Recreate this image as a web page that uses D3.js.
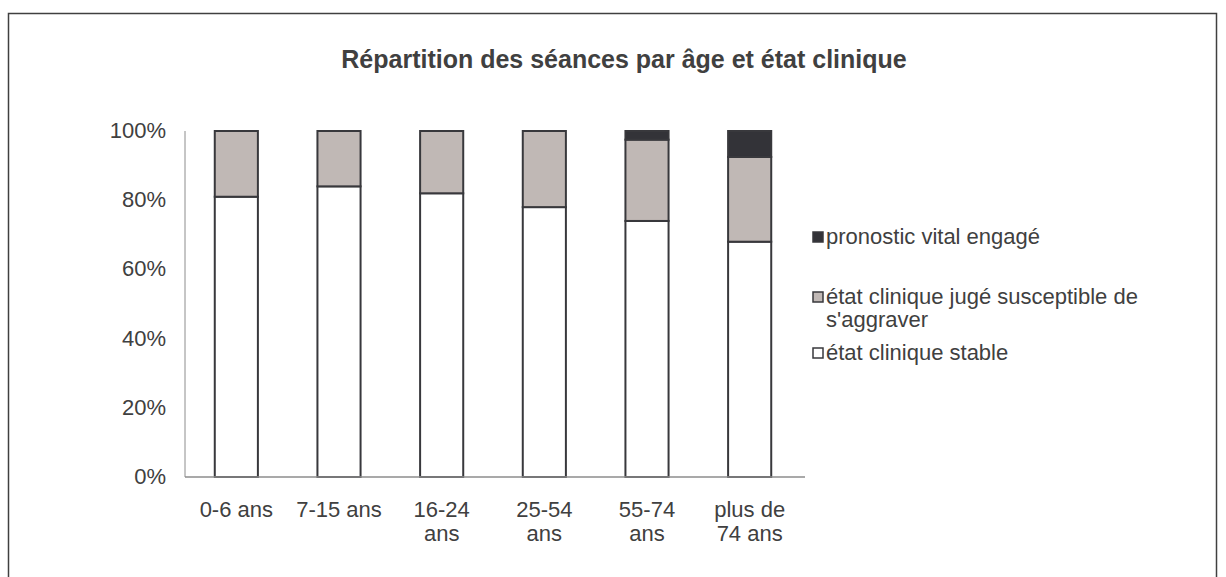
<!DOCTYPE html>
<html>
<head>
<meta charset="utf-8">
<script src="https://cdn.jsdelivr.net/npm/d3@7"></script>
<style>
  body { margin: 0; background: #fff; }
  text { font-family: "Liberation Sans", Arial, sans-serif; fill: #404040; }
</style>
</head>
<body>
<script>
// data
var categories = ["0-6 ans", "7-15 ans", "16-24 ans", "25-54 ans", "55-74 ans", "plus de 74 ans"];
var stable = [81, 84, 82, 78, 74, 68];
var aggravate = [19, 16, 18, 22, 23.5, 24.5];
var vital = [0, 0, 0, 0, 2.5, 7.5];
var yTicks = [0, 20, 40, 60, 80, 100];
var seriesNames = ["état clinique stable", "état clinique jugé susceptible de s'aggraver", "pronostic vital engagé"];
var seriesColors = ["#ffffff", "#c0b8b5", "#333338"];

var W = 1226, H = 577;
var svg = d3.select("body").append("svg").attr("width", W).attr("height", H);

// outer frame
svg.append("rect")
  .attr("x", 8.5).attr("y", 13.5)
  .attr("width", 1208).attr("height", 600)
  .attr("fill", "none").attr("stroke", "#404040").attr("stroke-width", 1.5);

svg.append("text")
  .attr("x", 624).attr("y", 68)
  .attr("text-anchor", "middle")
  .style("font-size", "25px").style("font-weight", "bold")
  .text("Répartition des séances par âge et état clinique");

var x = d3.scaleBand().domain(categories).range([185, 801]).paddingInner(0.58).paddingOuter(0.29);
var y = d3.scaleLinear().domain([0, 100]).range([477, 131]);

// stack
var rows = categories.map(function (c, i) {
  return { cat: c, s0: stable[i], s1: aggravate[i], s2: vital[i] };
});
var stack = d3.stack().keys(["s0", "s1", "s2"])(rows);

// axes lines
svg.append("line").attr("x1", 185).attr("x2", 185).attr("y1", y(100)).attr("y2", y(0))
  .attr("stroke", "#8c8c8c").attr("stroke-width", 1);

stack.forEach(function (layer, k) {
  svg.append("g").selectAll("rect")
    .data(layer.filter(function (d) { return d[1] > d[0]; }))
    .join("rect")
    .attr("x", function (d) { return x(d.data.cat); })
    .attr("width", x.bandwidth())
    .attr("y", function (d) { return y(d[1]); })
    .attr("height", function (d) { return y(d[0]) - y(d[1]); })
    .attr("fill", seriesColors[k])
    .attr("stroke", "#38383c").attr("stroke-width", 2);
});

svg.append("line").attr("x1", 185).attr("x2", 805).attr("y1", y(0)).attr("y2", y(0))
  .attr("stroke", "#8c8c8c").attr("stroke-width", 1.5);

// y tick labels
svg.append("g").selectAll("text").data(yTicks).join("text")
  .attr("x", 166).attr("y", function (d) { return y(d) + 7; })
  .attr("text-anchor", "end").style("font-size", "22px")
  .text(function (d) { return d + "%"; });

// x labels (wrapped like the original)
var xLines = [["0-6 ans"], ["7-15 ans"], ["16-24", "ans"], ["25-54", "ans"], ["55-74", "ans"], ["plus de", "74 ans"]];
categories.forEach(function (c, i) {
  var t = svg.append("text")
    .attr("x", x(c) + x.bandwidth() / 2).attr("y", 517)
    .attr("text-anchor", "middle").style("font-size", "22px");
  xLines[i].forEach(function (ln, j) {
    t.append("tspan").attr("x", x(c) + x.bandwidth() / 2).attr("dy", j === 0 ? 0 : 24).text(ln);
  });
});

// legend
var legend = [
  { k: 2, y: 237, lines: ["pronostic vital engagé"] },
  { k: 1, y: 297, lines: ["état clinique jugé susceptible de", "s'aggraver"] },
  { k: 0, y: 353, lines: ["état clinique stable"] }
];
legend.forEach(function (l) {
  svg.append("rect")
    .attr("x", 813).attr("y", l.y - 5).attr("width", 10).attr("height", 10)
    .attr("fill", seriesColors[l.k]).attr("stroke", "#38383c").attr("stroke-width", 1.5);
  var t = svg.append("text").attr("x", 826).attr("y", l.y + 7).style("font-size", "22px");
  l.lines.forEach(function (ln, j) {
    t.append("tspan").attr("x", 826).attr("dy", j === 0 ? 0 : 23).text(ln);
  });
});
</script>
</body>
</html>
